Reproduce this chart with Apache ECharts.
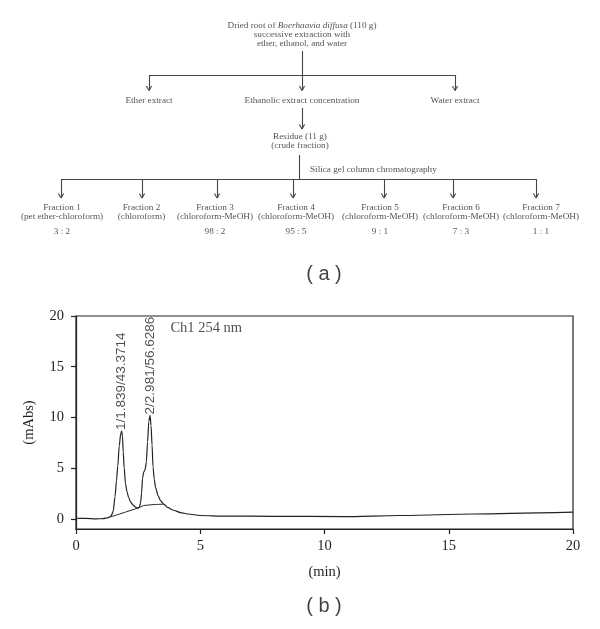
<!DOCTYPE html>
<html><head><meta charset="utf-8">
<script src="https://cdn.jsdelivr.net/npm/echarts@6/dist/echarts.min.js"></script>
<style>html,body{margin:0;padding:0;background:#fff}#c{width:600px;height:629px}</style>
</head><body><div id="c"></div><script>
// ---------- (b) chromatogram data ----------
const chromTime = [0,0.4,0.8,1.1,1.3,1.42,1.5,1.57,1.63,1.68,1.74,1.8,1.839,1.87,1.9,1.94,1.99,2.05,2.12,2.2,2.3,2.4,2.48,2.55,2.6,2.64,2.68,2.72,2.78,2.83,2.88,2.93,2.981,3.02,3.06,3.1,3.15,3.2,3.3,3.4,3.53,3.7,3.93,4.2,4.5,5.0,6,8,10.8,13,16,20];
const chromAbs  = [0.06,0.04,0.0,0.02,0.12,0.3,0.8,2.2,3.8,5.2,7.2,8.4,8.65,8.1,6.6,5.0,3.5,2.7,2.1,1.65,1.35,1.15,1.05,1.15,1.6,2.6,4.0,4.6,4.85,5.6,7.6,9.6,10.2,9.2,7.3,5.1,3.9,3.1,2.3,1.8,1.45,1.1,0.85,0.62,0.48,0.33,0.27,0.25,0.22,0.33,0.48,0.66];
const baseTime = [1.38,2.48,2.72,3.1,3.53];
const baseAbs  = [0.18,1.06,1.3,1.4,1.45];
const peakTime = [1.839,2.981];
const peakHeight = [8.65,10.2];
const peakLabels = ['1/1.839/43.3714','2/2.981/56.6286'];
const xTicks = [0,5,10,15,20];
const yTicks = [0,5,10,15,20];

// ---------- (a) flowchart content ----------
const sourceLines = ['Dried root of {i|Boerhaavia diffusa} (110 g)','successive extraction with','ether, ethanol, and water'];
const extractLabels = ['Ether extract','Ethanolic extract concentration','Water extract'];
const extractX = [149,302,455];
const residueLines = ['Residue (11 g)','(crude fraction)'];
const columnLabel = 'Silica gel column chromatography';
const fractionNames = ['Fraction 1','Fraction 2','Fraction 3','Fraction 4','Fraction 5','Fraction 6','Fraction 7'];
const fractionSolvents = ['(pet ether-chloroform)','(chloroform)','(chloroform-MeOH)','(chloroform-MeOH)','(chloroform-MeOH)','(chloroform-MeOH)','(chloroform-MeOH)'];
const fractionRatios = ['3 : 2','','98 : 2','95 : 5','9 : 1','7 : 3','1 : 1'];
const fractionArrowX = [61,142,217,293,384,453,536];
const fractionLabelX = [62,141.5,215,296,380,461,541];

// ---------- layout (positions, in overlay pixel units) ----------
const L = {srcY:34.3, srcLineH:8.8, trunkTop:51, splitY:75, tipY:90.5, extY:100.5,
  ethArrowTop:108, ethArrowTip:129, resY:141, colTop:155, fracSplitY:179, fracTip:198,
  fracY:212.2, ratioY:231.5, colLabelX:310, colLabelY:170, trunkX:302, colX:299};

const segs = [];
function seg(a,b){segs.push({coords:[a,b]});}
function arrow(x,y0,y1){seg([x,y0],[x,y1]);seg([x-2.6,y1-4.5],[x,y1]);seg([x+2.6,y1-4.5],[x,y1]);}
seg([L.trunkX,L.trunkTop],[L.trunkX,L.splitY]);
seg([extractX[0],L.splitY],[extractX[extractX.length-1],L.splitY]);
extractX.forEach(x=>arrow(x,L.splitY,L.tipY));
arrow(L.trunkX,L.ethArrowTop,L.ethArrowTip);
seg([L.colX,L.colTop],[L.colX,L.fracSplitY]);
seg([fractionArrowX[0],L.fracSplitY],[fractionArrowX[fractionArrowX.length-1],L.fracSplitY]);
fractionArrowX.forEach(x=>arrow(x,L.fracSplitY,L.fracTip));

const serif = 'Liberation Serif';
const ink = '#231f20';
const fs = 9.2, lh = 8.9;
const texts = [];
texts.push({value:[L.trunkX,L.srcY,sourceLines.join('\n')]});
extractLabels.forEach((t,i)=>texts.push({value:[extractX[i],L.extY,t]}));
texts.push({value:[300,L.resY,residueLines.join('\n')]});
texts.push({value:[L.colLabelX,L.colLabelY,columnLabel],label:{align:'left'}});
fractionNames.forEach((t,i)=>{
  texts.push({value:[fractionLabelX[i],L.fracY,t+'\n'+fractionSolvents[i]]});
  if(fractionRatios[i]) texts.push({value:[fractionLabelX[i],L.ratioY,fractionRatios[i]]});
});
const captions = [{value:[324,274,'( a )']},{value:[324,606,'( b )']}];

const chart = echarts.init(document.getElementById('c'),null,{renderer:'canvas'});
const axisText = {fontFamily:serif,fontSize:14.5,color:ink};
chart.setOption({
  animation:false,
  backgroundColor:'#fff',
  grid:[
    {left:76,top:316,right:27,bottom:100,show:true,borderColor:'#222',borderWidth:1.2,backgroundColor:'transparent'},
    {left:0,top:0,width:600,height:629,show:false}
  ],
  xAxis:[
    {type:'value',gridIndex:0,min:0,max:20,interval:5,
     name:'(min)',nameLocation:'middle',nameGap:36,nameTextStyle:axisText,
     axisLine:{onZero:false,lineStyle:{color:'#222',width:1.2}},
     axisTick:{show:true,length:5,inside:false,lineStyle:{color:'#222',width:1.2},customValues:xTicks},
     axisLabel:Object.assign({margin:10,customValues:xTicks},axisText),
     splitLine:{show:false}},
    {type:'value',gridIndex:1,min:0,max:600,show:false}
  ],
  yAxis:[
    {type:'value',gridIndex:0,min:-1,max:20,
     name:'(mAbs)',nameLocation:'middle',nameRotate:90,nameGap:39,nameTextStyle:axisText,
     axisLine:{show:true,onZero:false,lineStyle:{color:'#222',width:1.2}},
     axisTick:{show:true,length:5,inside:false,lineStyle:{color:'#222',width:1.2},customValues:yTicks},
     axisLabel:Object.assign({margin:12,customValues:yTicks},axisText),
     splitLine:{show:false}},
    {type:'value',gridIndex:1,min:0,max:629,inverse:true,show:false}
  ],
  series:[
    {type:'line',xAxisIndex:0,yAxisIndex:0,data:chromTime.map((t,i)=>[t,chromAbs[i]]),
     showSymbol:false,symbol:'none',smooth:0.25,smoothMonotone:'x',
     lineStyle:{color:'#222',width:1.2},silent:true,z:3},
    {type:'line',xAxisIndex:0,yAxisIndex:0,data:baseTime.map((t,i)=>[t,baseAbs[i]]),
     showSymbol:false,symbol:'none',smooth:0.2,
     lineStyle:{color:'#222',width:1},silent:true,z:3},
    {type:'scatter',xAxisIndex:0,yAxisIndex:0,symbolSize:0,silent:true,
     data:peakTime.map((t,i)=>[t,peakHeight[i],peakLabels[i]]),
     label:{show:true,position:'top',distance:1,rotate:90,align:'left',verticalAlign:'middle',
       formatter:p=>p.value[2],fontFamily:'Liberation Sans',fontSize:13.5,color:ink}},
    {type:'scatter',xAxisIndex:0,yAxisIndex:0,symbolSize:0,silent:true,
     data:[[3.8,18.8,'Ch1 254 nm']],
     label:{show:true,position:'inside',align:'left',verticalAlign:'middle',
       formatter:p=>p.value[2],fontFamily:serif,fontSize:14.5,color:ink}},
    {type:'lines',coordinateSystem:'cartesian2d',xAxisIndex:1,yAxisIndex:1,silent:true,
     data:segs,symbol:'none',lineStyle:{color:'#444',width:1.1,opacity:1}},
    {type:'scatter',xAxisIndex:1,yAxisIndex:1,symbolSize:0,silent:true,data:texts,
     label:{show:true,position:'inside',align:'center',verticalAlign:'middle',
       formatter:p=>p.value[2],fontFamily:serif,fontSize:fs,lineHeight:lh,color:ink,
       rich:{i:{fontFamily:serif,fontStyle:'italic',fontSize:fs,lineHeight:lh,color:ink}}}},
    {type:'scatter',xAxisIndex:1,yAxisIndex:1,symbolSize:0,silent:true,data:captions,
     label:{show:true,position:'inside',align:'center',verticalAlign:'middle',
       formatter:p=>p.value[2],fontFamily:'Liberation Sans',fontSize:20,color:'#111'}}
  ]
});
</script></body></html>
